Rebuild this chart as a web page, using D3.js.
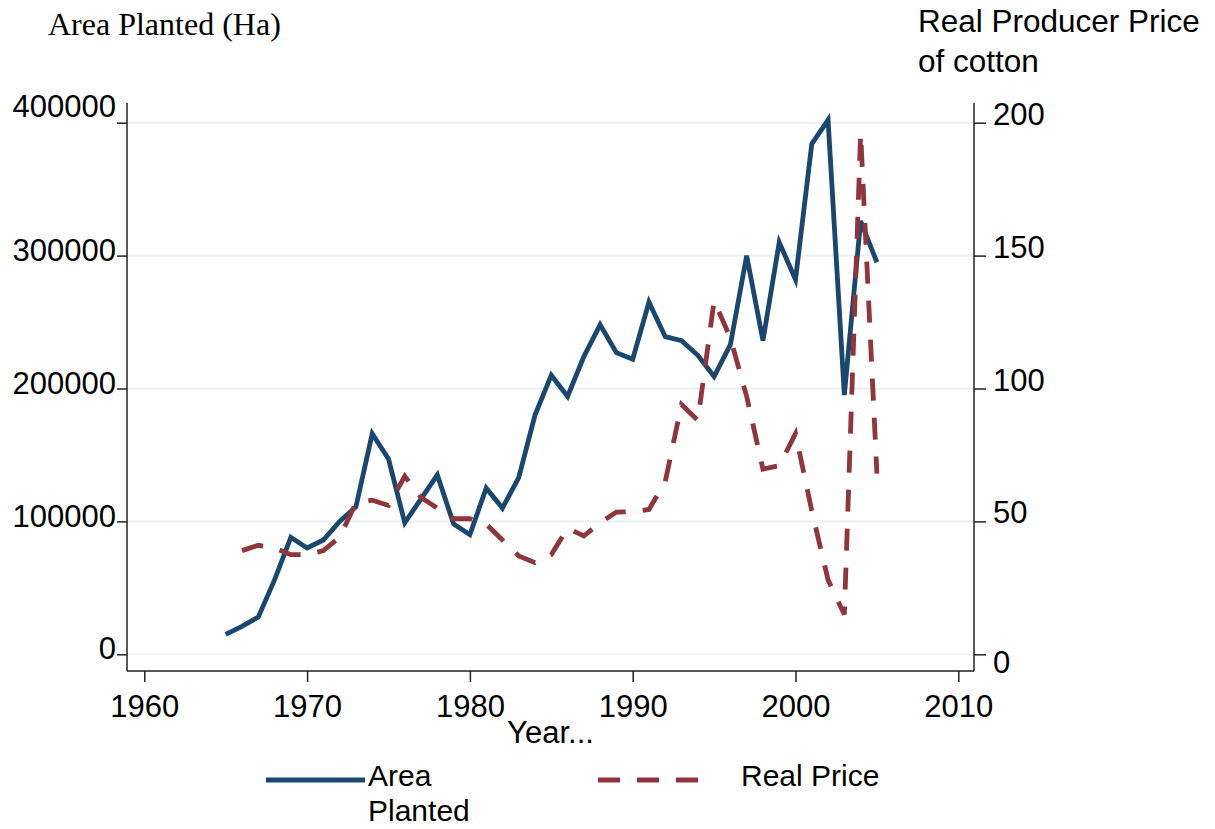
<!DOCTYPE html>
<html>
<head>
<meta charset="utf-8">
<script src="https://cdn.jsdelivr.net/npm/d3@7"></script>
<style>
	body { margin: 0; background: #fff; }
	svg text { font-family: "Liberation Sans", Arial, sans-serif; fill: #000; }
</style>
</head>
<body>
<svg id="chart" width="1215" height="829"></svg>
<script>
// area planted (ha), 1965 - 2005
var areaYears = [1965, 1966, 1967, 1968, 1969, 1970, 1971, 1972, 1973, 1974,
	1975, 1976, 1977, 1978, 1979, 1980, 1981, 1982, 1983, 1984,
	1985, 1986, 1987, 1988, 1989, 1990, 1991, 1992, 1993, 1994,
	1995, 1996, 1997, 1998, 1999, 2000, 2001, 2002, 2003, 2004, 2005];
var areaPlanted = [15000, 21000, 28000, 56000, 88000, 80000, 86000, 100000, 111000, 166000,
	147000, 99000, 117000, 135000, 98000, 90000, 125000, 110000, 133000, 180000,
	210000, 194000, 224000, 248000, 227000, 222000, 265000, 239000, 236000, 225000,
	209000, 233000, 300000, 236000, 310000, 282000, 384000, 402000, 195000, 326000, 295000];

// real producer price of cotton, 1966 - 2005
var priceYears = [1966, 1967, 1968, 1969, 1970, 1971, 1972, 1973, 1974,
	1975, 1976, 1977, 1978, 1979, 1980, 1981, 1982, 1983, 1984,
	1985, 1986, 1987, 1988, 1989, 1990, 1991, 1992, 1993, 1994,
	1995, 1996, 1997, 1998, 1999, 2000, 2001, 2002, 2003, 2004, 2005];
var realPrice = [39, 41, 40, 37.5, 37.5, 39, 44, 57, 58,
	56, 67, 59, 55, 51, 51, 49, 43, 37, 34.5,
	37.5, 47.5, 44.5, 49.5, 53.5, 53.7, 54.5, 65, 94, 88,
	133, 119, 97, 69.7, 71, 83, 54, 28, 15, 196, 68];

var xTicks = [1960, 1970, 1980, 1990, 2000, 2010];
var areaTicks = [0, 100000, 200000, 300000, 400000];
var priceTicks = [0, 50, 100, 150, 200];

var blue = '#1a476f';
var red = '#90353b';

var svg = d3.select('#chart');
svg.append('rect').attr('width', 1215).attr('height', 829).attr('fill', '#fff');

// plot frame (no top line)
var plotLeft = 127, plotRight = 974, plotBottom = 671, plotTop = 103;

var x = d3.scaleLinear().domain([1960, 2010]).range([144.3, 958.3]);
var yArea = d3.scaleLinear().domain([0, 400000]).range([654.3, 122.7]);
var yPrice = d3.scaleLinear().domain([0, 200]).range([654.3, 122.7]);

// grid
svg.append('g').selectAll('line').data(areaTicks).join('line')
	.attr('x1', plotLeft).attr('x2', plotRight)
	.attr('y1', function(d) { return yArea(d); })
	.attr('y2', function(d) { return yArea(d); })
	.attr('stroke', '#eaf0f3').attr('stroke-width', 2);

// axes
var gl = svg.append('g').attr('transform', 'translate(' + plotLeft + ',0)')
	.call(d3.axisLeft(yArea).tickValues(areaTicks).tickSize(10).tickPadding(1).tickFormat(d3.format('d')));
gl.selectAll('text').attr('dy', '0.15em');
gl.selectAll('.tick').filter(function(d) { return d === 400000; })
	.select('text').attr('dy', '-0.2em');

var gr = svg.append('g').attr('transform', 'translate(' + plotRight + ',0)')
	.call(d3.axisRight(yPrice).tickValues(priceTicks).tickSize(12).tickPadding(7).tickFormat(d3.format('d')));
gr.selectAll('text').attr('dy', '0.05em');
gr.selectAll('.tick').filter(function(d) { return d === 0; })
	.select('text').attr('dy', '0.6em');

var gb = svg.append('g').attr('transform', 'translate(0,' + plotBottom + ')')
	.call(d3.axisBottom(x).tickValues(xTicks).tickSize(11).tickPadding(13).tickFormat(d3.format('d')));

[gl, gr, gb].forEach(function(g) {
	g.select('.domain').remove();
	g.selectAll('line').attr('stroke', '#222').attr('stroke-width', 1.5);
	g.selectAll('text').style('font-size', '31px').attr('fill', '#000');
});

// frame
svg.append('line').attr('x1', plotLeft).attr('x2', plotLeft).attr('y1', plotTop).attr('y2', plotBottom)
	.attr('stroke', '#222').attr('stroke-width', 1.5);
svg.append('line').attr('x1', plotRight).attr('x2', plotRight).attr('y1', plotTop).attr('y2', plotBottom)
	.attr('stroke', '#222').attr('stroke-width', 1.5);
svg.append('line').attr('x1', plotLeft).attr('x2', plotRight).attr('y1', plotBottom).attr('y2', plotBottom)
	.attr('stroke', '#222').attr('stroke-width', 1.5);

// series
var areaLine = d3.line()
	.x(function(d, i) { return x(areaYears[i]); })
	.y(function(d) { return yArea(d); });
var priceLine = d3.line()
	.x(function(d, i) { return x(priceYears[i]); })
	.y(function(d) { return yPrice(d); });

svg.append('path').datum(areaPlanted).attr('d', areaLine)
	.attr('fill', 'none').attr('stroke', blue).attr('stroke-width', 4.8)
	.attr('stroke-linejoin', 'miter');

svg.append('path').datum(realPrice).attr('d', priceLine)
	.attr('fill', 'none').attr('stroke', red).attr('stroke-width', 4.8)
	.attr('stroke-dasharray', '22,17');

// titles
svg.append('text').attr('x', 48).attr('y', 35)
	.style('font-family', '"Liberation Serif", "Times New Roman", serif')
	.style('font-size', '32px').text('Area Planted (Ha)');
svg.append('text').attr('x', 918).attr('y', 32).style('font-size', '31.5px').text('Real Producer Price');
svg.append('text').attr('x', 918).attr('y', 72).style('font-size', '31.5px').text('of cotton');
svg.append('text').attr('x', (plotLeft + plotRight) / 2).attr('y', 743).attr('text-anchor', 'middle')
	.style('font-size', '31px').text('Year...');

// legend
svg.append('line').attr('x1', 266).attr('x2', 365).attr('y1', 780).attr('y2', 780)
	.attr('stroke', blue).attr('stroke-width', 4.8);
svg.append('text').attr('x', 368).attr('y', 786).style('font-size', '30px').text('Area');
svg.append('text').attr('x', 368).attr('y', 821).style('font-size', '30px').text('Planted');
svg.append('line').attr('x1', 598).attr('x2', 699).attr('y1', 780).attr('y2', 780)
	.attr('stroke', red).attr('stroke-width', 4.8).attr('stroke-dasharray', '22,17');
svg.append('text').attr('x', 741).attr('y', 786).style('font-size', '30px').text('Real Price');
</script>
</body>
</html>
